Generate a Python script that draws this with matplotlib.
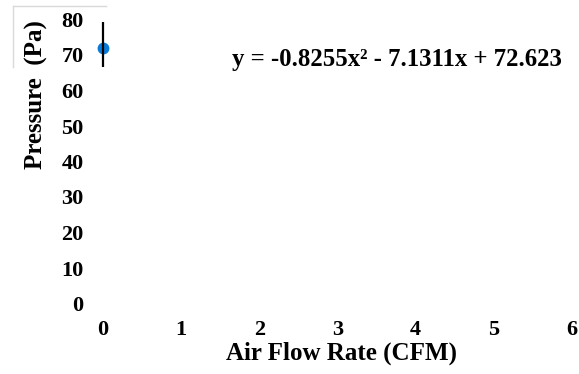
import matplotlib
matplotlib.use("Agg")
import matplotlib.pyplot as plt
from matplotlib.lines import Line2D

plt.rcParams['font.family'] = ['Liberation Serif', 'DejaVu Serif']
plt.rcParams['font.weight'] = 'bold'

# data
flow = [0.0]
pressure = [72.0]
err_low = [5.4]
err_high = [7.3]
x_ticks = [0, 1, 2, 3, 4, 5, 6]
y_ticks = [0, 10, 20, 30, 40, 50, 60, 70, 80]
equation = 'y = -0.8255x² - 7.1311x + 72.623'

W, H = 579, 374
fig = plt.figure(figsize=(W / 100, H / 100), dpi=100)
ax = fig.add_axes([103 / W, 1 - 303.5 / H, (572 - 103) / W, (303.5 - 19.5) / H])

ax.errorbar(flow, pressure, yerr=[err_low, err_high], fmt='none',
            ecolor='black', elinewidth=1.6, capsize=0, clip_on=False, zorder=3)
ax.plot(flow, pressure, 'o', color='#0a7ad8', markersize=7.5, clip_on=False, zorder=2)

ax.set_xlim(0, 6)
ax.set_ylim(0, 80)
ax.set_xticks(x_ticks)
ax.set_yticks(y_ticks)
ax.tick_params(length=0, labelsize=16)
ax.tick_params(axis='x', pad=12)
ax.tick_params(axis='y', pad=14)
for lab in ax.get_xticklabels() + ax.get_yticklabels():
    lab.set_fontweight('bold')
for s in ax.spines.values():
    s.set_visible(False)

fig.text(232 / W, 1 - 66 / H, equation, fontsize=17.8, fontweight='bold',
         va='baseline', ha='left')

fig.text(341 / W, 1 - 360 / H, 'Air Flow Rate (CFM)', fontsize=18,
         fontweight='bold', ha='center', va='baseline')
fig.text(36 / W, 1 - 95 / H, 'Pressure  (Pa)', fontsize=18, fontweight='bold',
         rotation=90, ha='center', va='center')

# faint frame fragment at the top left
fig.add_artist(Line2D([13 / W, 106 / W], [1 - 6 / H, 1 - 6 / H],
                      color='#d9d9d9', lw=1, transform=fig.transFigure))
fig.add_artist(Line2D([13 / W, 13 / W], [1 - 6 / H, 1 - 67 / H],
                      color='#d9d9d9', lw=1, transform=fig.transFigure))

fig.savefig('out.png', dpi=100)
